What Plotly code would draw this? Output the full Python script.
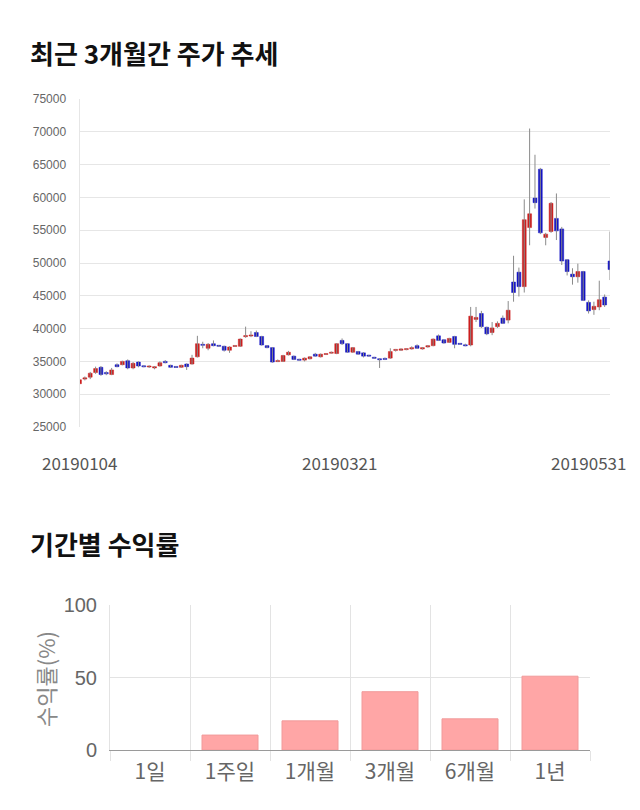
import plotly.graph_objects as go

# ---------------- data ----------------
dates = [
    "20190104","20190107","20190108","20190109","20190110","20190111","20190114","20190115","20190116","20190117",
    "20190118","20190121","20190122","20190123","20190124","20190125","20190128","20190129","20190130","20190131",
    "20190201","20190207","20190208","20190211","20190212","20190213","20190214","20190215","20190218","20190219",
    "20190220","20190221","20190222","20190225","20190226","20190227","20190228",
    "20190304","20190305","20190306","20190307","20190308","20190311","20190312","20190313","20190314","20190315",
    "20190318","20190319","20190320","20190321","20190322","20190325","20190326","20190327","20190328","20190329",
    "20190401","20190402","20190403","20190404","20190405","20190408","20190409","20190410","20190411","20190412",
    "20190415","20190416","20190417","20190418","20190419","20190422","20190423","20190424","20190425","20190426",
    "20190429","20190430",
    "20190502","20190503","20190507","20190508","20190509","20190510","20190513","20190514","20190515","20190516",
    "20190517","20190520","20190521","20190522","20190523","20190524","20190527","20190528","20190529","20190530",
    "20190531",
]

opens = [
    31600, 32300, 32600, 33300, 34100, 33300, 33000, 34500, 34500, 35100,
    34000, 34900, 34300, 34200, 34000, 34300, 35000, 34400, 34200, 34100,
    34600, 34600, 35700, 37600, 37000, 37700, 37400, 37300, 36700, 37300,
    37300, 38800, 38900, 39400, 38800, 37400, 37100, 35000, 35000, 36000,
    35800, 35300, 35200, 35400, 36100, 35700, 36100, 36300, 36200, 38200,
    37700, 36400, 36500, 36300, 35900, 35600, 35350, 35450, 35500, 36700,
    36700, 36850, 36900, 37400, 36900, 37200, 37400, 38900, 38300, 37900,
    38800, 37700, 37500, 37500, 41400, 42300, 40200, 39400, 40300, 41600,
    41300, 47100, 48600, 46400, 55400, 59900, 64300, 53900, 54800, 56800,
    55200, 50500, 48300, 47900, 48700, 44000, 42900, 43300, 44800, 50300,
]
highs = [
    32400, 32700, 33400, 34200, 34300, 33500, 34000, 34700, 35100, 35300,
    34900, 35000, 34400, 34400, 34300, 35000, 35200, 34500, 34300, 34500,
    34700, 36000, 38900, 38000, 37800, 38200, 37500, 37400, 37300, 37500,
    38500, 40300, 39600, 39700, 38900, 37500, 37200, 35300, 36000, 36600,
    35900, 35400, 35600, 35800, 36300, 36200, 36200, 36500, 37800, 38500,
    37800, 37200, 36600, 36400, 36000, 35700, 35500, 35600, 37000, 36900,
    37000, 37000, 37300, 37600, 37200, 37500, 38500, 39100, 38400, 38600,
    38900, 37800, 37700, 43300, 43300, 42700, 40300, 41000, 41100, 42000,
    44200, 51100, 49300, 59700, 70500, 66500, 64500, 54600, 59300, 60600,
    55500, 50600, 49200, 49900, 48800, 44300, 44100, 47300, 45200, 54800,
]
lows = [
    31100, 32100, 32300, 33100, 32800, 32900, 32900, 34100, 34400, 33800,
    33800, 34100, 34100, 34000, 33800, 34200, 34700, 34000, 34000, 34000,
    33700, 34500, 35600, 37000, 36700, 37300, 37200, 36500, 36300, 37200,
    37200, 38600, 38700, 38700, 37400, 37000, 34800, 34900, 34900, 35900,
    35200, 35100, 35000, 35300, 35700, 35600, 36000, 36200, 36100, 37500,
    36300, 36300, 36000, 35600, 35700, 35400, 34000, 35200, 35400, 36500,
    36600, 36700, 36800, 36900, 36800, 37100, 37300, 38100, 37700, 37800,
    37000, 37500, 37300, 37300, 41000, 40100, 39000, 39000, 40100, 40700,
    40800, 44100, 44900, 45500, 52700, 58300, 54400, 52700, 54600, 53500,
    49700, 48100, 46700, 47000, 44200, 42300, 42100, 42800, 43300, 47400,
]
closes = [
    32200, 32500, 33200, 33900, 33000, 33100, 33700, 34200, 35000, 34000,
    34700, 34300, 34200, 34250, 34200, 34800, 34800, 34100, 34100, 34400,
    34200, 35500, 37700, 37450, 37600, 37400, 37350, 36700, 37200, 37400,
    38400, 38900, 39000, 38800, 37500, 37100, 34900, 35100, 35900, 36400,
    35300, 35200, 35500, 35700, 35800, 36100, 36150, 36350, 37700, 37700,
    36400, 37100, 36100, 35800, 35850, 35500, 35300, 35300, 36500, 36800,
    36900, 36900, 37100, 37000, 37100, 37400, 38400, 38200, 37800, 38500,
    37600, 37650, 37400, 41900, 41700, 40300, 39200, 40100, 40800, 40800,
    42800, 45500, 46400, 56600, 57500, 59200, 54600, 54400, 59100, 54900,
    50300, 48700, 47900, 48700, 44300, 42700, 43400, 44400, 43600, 49000,
]

price_ticks = [25000, 30000, 35000, 40000, 45000, 50000, 55000, 60000, 65000, 70000, 75000]
date_labels = ["20190104", "20190321", "20190531"]

periods = ["1일", "1주일", "1개월", "3개월", "6개월", "1년"]
returns = [0, 10.3, 20.1, 40.2, 21.5, 50.9]

# ---------------- styles ----------------
W, H = 640, 810
UP, DOWN = "#cc1f1f", "#1414c4"
WICK = "#8a8a8a"
GRID = "#e6e6e6"
KFONT = "Noto Sans CJK KR"


def px_x(p):
    return p / W


def px_y(p):
    return 1 - p / H


fig = go.Figure()

# wicks
wx, wy = [], []
for d, lo, hi in zip(dates, lows, highs):
    wx += [d, d, None]
    wy += [lo, hi, None]
fig.add_trace(go.Scatter(x=wx, y=wy, mode="lines", line=dict(color=WICK, width=1),
                         hoverinfo="skip", showlegend=False, xaxis="x", yaxis="y"))

# bodies
MIN_BODY = 160
for up, color in ((True, UP), (False, DOWN)):
    xs, bases, hs = [], [], []
    for d, o, c in zip(dates, opens, closes):
        if (c >= o) == up:
            xs.append(d)
            lo = min(o, c)
            h = abs(c - o)
            if h < MIN_BODY:
                lo -= (MIN_BODY - h) / 2
                h = MIN_BODY
            bases.append(lo)
            hs.append(h)
    fig.add_trace(go.Bar(x=xs, y=hs, base=bases, width=0.72,
                         marker=dict(color=color, line=dict(color=color, width=0.5)),
                         showlegend=False, xaxis="x", yaxis="y"))

# return bars (no outline on an empty bar)
fig.add_trace(go.Bar(x=periods, y=returns, width=0.7,
                     marker=dict(color="#ffa6a6",
                                 line=dict(color="#f19a9a",
                                           width=[1 if v > 0 else 0 for v in returns])),
                     showlegend=False, xaxis="x2", yaxis="y2"))

annotations = [
    dict(text="<b>최근 3개월간 주가 추세</b>", x=px_x(28), y=px_y(52), xref="paper", yref="paper",
         xanchor="left", yanchor="middle", showarrow=False,
         font=dict(family=KFONT, size=26, color="#111111")),
    dict(text="<b>기간별 수익률</b>", x=px_x(28), y=px_y(543), xref="paper", yref="paper",
         xanchor="left", yanchor="middle", showarrow=False,
         font=dict(family=KFONT, size=26, color="#111111")),
    dict(text="수익률(%)", x=px_x(45), y=px_y(679), xref="paper", yref="paper",
         xanchor="center", yanchor="middle", textangle=-90, showarrow=False,
         font=dict(family=KFONT, size=22, color="#888888")),
]
label_anchor = ["center", "center", "right"]
label_shift = [0, -8, 18]
for lab, anc, sh in zip(date_labels, label_anchor, label_shift):
    annotations.append(dict(text=lab, x=dates.index(lab), y=px_y(462), xref="x", yref="paper",
                            xanchor=anc, yanchor="middle", xshift=sh, showarrow=False,
                            font=dict(family=KFONT, size=17, color="#555555")))

fig.update_layout(
    width=W, height=H,
    margin=dict(l=0, r=0, t=0, b=0, autoexpand=False),
    paper_bgcolor="white", plot_bgcolor="white",
    barmode="overlay",
    showlegend=False,
    annotations=annotations,
    xaxis=dict(domain=[px_x(79.5), px_x(610)], type="category", categoryorder="array",
               categoryarray=dates, range=[0, len(dates) - 1], showticklabels=False,
               showgrid=False, zeroline=False, showline=False, ticks="", anchor="y",
               automargin=False),
    yaxis=dict(domain=[px_y(427), px_y(99)], range=[25000, 75000], tickvals=price_ticks,
               tickformat="d", showgrid=True, gridcolor=GRID, gridwidth=1, zeroline=False,
               showline=True, linecolor=GRID, linewidth=1, ticks="", ticklabelstandoff=10,
               tickfont=dict(family="Liberation Sans", size=12, color="#666666"), anchor="x",
               automargin=False),
    xaxis2=dict(domain=[px_x(110), px_x(590)], type="category", categoryorder="array",
                categoryarray=periods, tickson="boundaries", ticks="outside", ticklen=10,
                tickcolor="#e3e3e3", showgrid=True, gridcolor="#e3e3e3", zeroline=False,
                showline=True, linecolor="#9a9a9a", linewidth=1, ticklabelstandoff=3,
                tickfont=dict(family=KFONT, size=21, color="#666666"), anchor="y2",
                automargin=False),
    yaxis2=dict(domain=[px_y(750), px_y(605)], range=[0, 100], tickvals=[0, 50, 100],
                showgrid=True, gridcolor="#e3e3e3", zeroline=False, showline=True,
                linecolor="#e3e3e3", ticks="", ticklabelstandoff=8,
                tickfont=dict(family="Liberation Sans", size=20, color="#666666"), anchor="x2",
                automargin=False),
)

fig.write_html("out.html")
